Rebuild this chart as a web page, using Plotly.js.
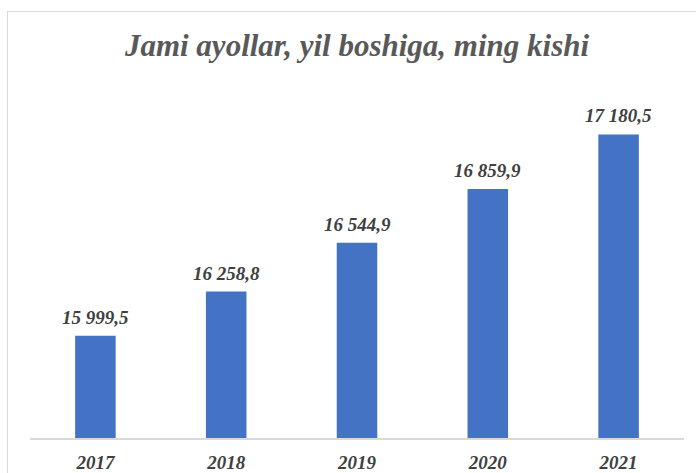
<!DOCTYPE html>
<html>
<head>
<meta charset="utf-8">
<script src="https://cdn.plot.ly/plotly-3.0.1.min.js"></script>
<style>
  html, body { margin: 0; padding: 0; background: #ffffff; }
  #wrap { position: relative; width: 696px; height: 473px; overflow: hidden; }
  #chart { position: absolute; left: 0; top: 0; width: 696px; height: 473px; }
  #frame { position: absolute; left: 7px; top: 11px; width: 720px; height: 500px;
           border: 1px solid #d9d9d9; box-sizing: border-box; pointer-events: none; }
</style>
</head>
<body>
<div id="wrap">
  <div id="chart"></div>
  <div id="frame"></div>
</div>
<script>
const years = ['2017', '2018', '2019', '2020', '2021'];
const values = [15999.5, 16258.8, 16544.9, 16859.9, 17180.5];
const chartTitle = 'Jami ayollar, yil boshiga, ming kishi';

function fmt(v) {
  const parts = v.toFixed(1).split('.');
  const intPart = parts[0].replace(/\B(?=(\d{3})+(?!\d))/g, ' ');
  return intPart + ',' + parts[1];
}

const serif = 'Liberation Serif, serif';

const trace = {
  type: 'bar',
  x: years,
  y: values,
  marker: { color: '#4472c4' },
  hoverinfo: 'skip'
};

const annotations = years.map((yr, i) => ({
  x: i, y: values[i], xref: 'x', yref: 'y',
  text: fmt(values[i]),
  showarrow: false, yanchor: 'bottom', yshift: 6,
  font: { family: serif, size: 19, color: '#404040', weight: 'bold', style: 'italic' }
}));

const layout = {
  width: 696, height: 473,
  margin: { l: 30, r: 12, t: 97, b: 35 },
  paper_bgcolor: '#ffffff', plot_bgcolor: '#ffffff',
  title: {
    text: chartTitle,
    font: { family: serif, size: 31, color: '#595959', weight: 'bold', style: 'italic' },
    x: 0.5, xanchor: 'center', y: 0.905, yanchor: 'middle', xref: 'paper'
  },
  bargap: 0.69,
  showlegend: false,
  xaxis: {
    type: 'category',
    range: [-0.5, years.length - 0.5],
    autorange: false,
    showline: true, linecolor: '#d9d9d9', linewidth: 1.5,
    showgrid: false, zeroline: false, ticks: '',
    tickfont: { family: serif, size: 19, color: '#404040', weight: 'bold', style: 'italic' },
    ticklabelstandoff: 7
  },
  yaxis: {
    range: [15400, 17400],
    autorange: false,
    visible: false, showgrid: false, zeroline: false
  },
  annotations: annotations
};

Plotly.newPlot('chart', [trace], layout, { staticPlot: true, displayModeBar: false });
</script>
</body>
</html>
